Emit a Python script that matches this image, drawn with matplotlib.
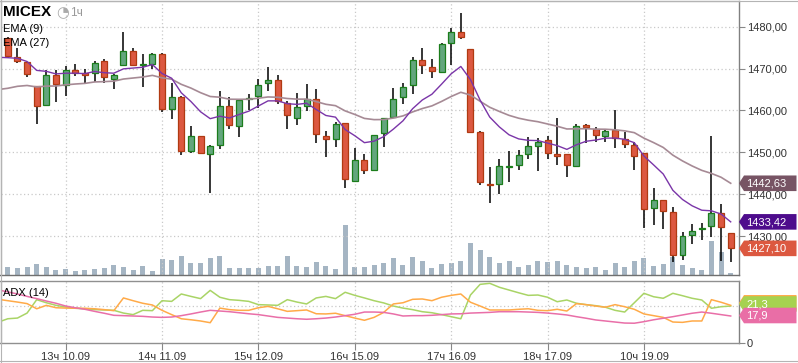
import numpy as np
import matplotlib
matplotlib.use("Agg")
import matplotlib.pyplot as plt
from matplotlib.patches import Polygon
from matplotlib.lines import Line2D
from matplotlib.transforms import IdentityTransform

plt.rcParams['font.family'] = ['Liberation Sans', 'DejaVu Sans']

# ---------------- data (hourly candles, MICEX) ----------------
opens = [1477.3, 1472.7, 1471.5, 1465.8, 1461.4, 1468.5, 1466.0, 1469.6, 1468.9, 1468.9,
         1471.7, 1467.6, 1470.8, 1474.1, 1470.8, 1471.0, 1473.5, 1460.3, 1463.3, 1450.3,
         1453.8, 1449.5, 1451.7, 1461.0, 1456.2, 1462.8, 1463.4, 1466.5, 1467.2, 1461.7,
         1458.2, 1461.1, 1462.8, 1453.8, 1453.1, 1456.9, 1443.2, 1448.1, 1445.8, 1454.6,
         1458.4, 1463.2, 1466.0, 1472.0, 1470.3, 1469.3, 1476.0, 1478.7, 1474.6, 1454.8,
         1442.5, 1442.4, 1446.4, 1446.9, 1449.5, 1451.5, 1452.9, 1449.6, 1449.5, 1446.8,
         1456.5, 1455.5, 1454.0, 1455.3, 1453.2, 1451.7, 1449.8, 1436.7, 1438.6, 1435.7,
         1425.4, 1430.4, 1431.6, 1432.4, 1435.5, 1430.7]
highs = [1477.6, 1474.8, 1471.6, 1465.9, 1469.7, 1469.7, 1470.5, 1471.1, 1469.8, 1471.9,
         1472.2, 1468.6, 1478.7, 1474.8, 1473.5, 1473.7, 1473.7, 1466.6, 1463.5, 1456.3,
         1453.9, 1451.7, 1464.7, 1463.2, 1462.6, 1464.0, 1467.4, 1470.3, 1468.4, 1462.3,
         1464.1, 1466.3, 1465.1, 1455.0, 1457.3, 1457.0, 1451.1, 1449.6, 1454.2, 1458.2,
         1465.4, 1466.6, 1472.8, 1474.8, 1472.2, 1476.2, 1479.6, 1483.3, 1474.7, 1455.0,
         1446.4, 1448.4, 1450.3, 1450.6, 1453.7, 1453.4, 1453.9, 1458.2, 1449.6, 1456.8,
         1456.8, 1456.1, 1455.6, 1460.1, 1454.9, 1452.6, 1449.9, 1441.4, 1438.7, 1437.0,
         1431.0, 1432.8, 1433.1, 1453.9, 1437.6, 1430.8]
lows = [1472.5, 1471.4, 1467.9, 1456.7, 1461.1, 1462.1, 1463.5, 1468.2, 1466.5, 1466.9,
        1466.5, 1465.2, 1470.5, 1470.5, 1465.7, 1470.0, 1459.6, 1458.0, 1449.3, 1449.9,
        1449.8, 1440.4, 1450.9, 1455.5, 1453.6, 1460.0, 1460.5, 1464.7, 1461.5, 1455.5,
        1456.5, 1459.9, 1452.2, 1448.8, 1451.4, 1441.4, 1443.0, 1444.9, 1445.6, 1451.4,
        1458.1, 1461.6, 1464.0, 1468.8, 1467.8, 1469.0, 1470.9, 1477.1, 1454.7, 1442.1,
        1437.9, 1440.1, 1442.9, 1445.7, 1448.5, 1445.5, 1448.5, 1447.1, 1444.1, 1446.7,
        1452.3, 1452.4, 1452.6, 1451.1, 1451.1, 1445.7, 1432.0, 1432.7, 1431.8, 1423.9,
        1424.3, 1428.2, 1429.2, 1429.9, 1424.1, 1423.9]
closes = [1473.1, 1471.9, 1468.6, 1461.1, 1468.4, 1466.3, 1469.6, 1468.9, 1468.4, 1471.3,
          1467.9, 1468.4, 1474.1, 1470.9, 1471.1, 1473.5, 1460.3, 1463.2, 1450.3, 1453.8,
          1449.9, 1451.5, 1461.0, 1456.5, 1462.4, 1463.0, 1466.0, 1467.2, 1462.3, 1458.9,
          1460.8, 1462.8, 1454.3, 1453.1, 1456.8, 1443.6, 1448.1, 1445.7, 1454.1, 1458.1,
          1462.7, 1465.5, 1472.0, 1470.8, 1469.4, 1475.9, 1478.7, 1477.5, 1454.9, 1442.9,
          1442.2, 1446.7, 1446.7, 1449.3, 1451.5, 1452.6, 1449.8, 1449.2, 1447.1, 1456.2,
          1456.0, 1454.1, 1455.2, 1453.5, 1451.9, 1449.1, 1436.4, 1438.6, 1436.1, 1425.4,
          1430.0, 1431.2, 1432.0, 1435.5, 1432.2, 1427.1]
volumes = [8, 7, 8, 11, 8, 5, 6, 4, 5, 6,
           7, 10, 8, 5, 9, 4, 16, 15, 19, 12,
           12, 17, 19, 7, 7, 7, 7, 9, 9, 19,
           9, 8, 13, 9, 6, 50, 8, 8, 10, 12,
           17, 10, 18, 14, 7, 11, 12, 14, 32, 25,
           18, 12, 14, 8, 10, 14, 13, 14, 10, 8,
           7, 8, 5, 12, 8, 14, 17, 9, 11, 18,
           10, 7, 5, 34, 23, 2]

# indicator series start one bar before the first visible candle
ema9 = [1472.7,
        1472.6, 1472.46, 1471.69, 1469.57, 1469.34, 1468.73, 1468.90, 1468.90, 1468.80, 1469.30,
        1469.02, 1468.90, 1469.94, 1470.13, 1470.32, 1470.96, 1468.83, 1467.70, 1464.22, 1462.14,
        1459.69, 1458.05, 1458.64, 1458.21, 1459.05, 1459.84, 1461.07, 1462.30, 1462.30, 1461.62,
        1461.46, 1461.73, 1460.24, 1458.81, 1458.41, 1455.45, 1453.98, 1452.32, 1452.68, 1453.76,
        1455.55, 1457.54, 1460.43, 1462.50, 1463.88, 1466.28, 1468.76, 1470.51, 1467.39, 1462.49,
        1458.43, 1456.08, 1454.20, 1453.22, 1452.88, 1452.82, 1452.22, 1451.62, 1450.72, 1451.82,
        1452.66, 1452.95, 1453.40, 1453.42, 1453.12, 1452.32, 1449.13, 1447.02, 1444.84, 1440.95,
        1438.76, 1437.25, 1436.20, 1436.06, 1435.29, 1433.42]
ema27 = [1465.0,
         1465.3, 1465.77, 1465.97, 1465.62, 1465.82, 1465.85, 1466.12, 1466.32, 1466.47, 1466.81,
         1466.89, 1467.00, 1467.51, 1467.75, 1467.99, 1468.38, 1467.80, 1467.47, 1466.24, 1465.35,
         1464.25, 1463.34, 1463.17, 1462.69, 1462.67, 1462.69, 1462.93, 1463.23, 1463.16, 1462.86,
         1462.71, 1462.72, 1462.12, 1461.48, 1461.15, 1459.90, 1459.06, 1458.11, 1457.82, 1457.84,
         1458.19, 1458.71, 1459.66, 1460.46, 1461.10, 1462.16, 1463.34, 1464.35, 1463.68, 1462.20,
         1460.77, 1459.77, 1458.84, 1458.16, 1457.68, 1457.32, 1456.78, 1456.24, 1455.59, 1455.63,
         1455.66, 1455.55, 1455.53, 1455.39, 1455.14, 1454.71, 1453.40, 1452.34, 1451.18, 1449.34,
         1447.96, 1446.76, 1445.71, 1444.98, 1444.07, 1442.63]
adx_green = [12.1,
             14.1, 14.5, 17.4, 25.2, 23.4, 21.9, 20.9, 20.2, 19.8, 19.4,
             19.2, 19.0, 17.4, 16.5, 19.0, 18.8, 24.6, 24.2, 28.5, 27.1,
             25.8, 30.6, 26.6, 25.2, 24.8, 24.2, 22.3, 22.1, 21.9, 25.2,
             23.8, 22.7, 26.2, 27.1, 25.8, 29.5, 27.7, 26.2, 24.6, 23.3,
             21.5, 20.3, 19.4, 18.2, 17.6, 16.5, 15.3, 14.1, 27.9, 34.1,
             34.7, 32.4, 30.8, 29.2, 27.7, 27.9, 26.6, 24.0, 25.0, 23.1,
             22.3, 21.7, 20.8, 19.0, 18.0, 23.4, 28.9, 26.9, 26.0, 28.9,
             27.5, 26.0, 25.0, 20.2, 21.1, 21.5]
adx_orange = [25.4,
              24.6, 23.8, 22.9, 19.9, 21.9, 20.5, 20.3, 20.2, 20.2, 19.9,
              19.4, 18.8, 26.2, 24.6, 23.1, 22.1, 19.0, 16.5, 14.1, 13.5,
              12.8, 11.8, 20.3, 19.4, 19.0, 19.0, 20.5, 21.3, 19.9, 18.4,
              18.8, 19.2, 17.0, 16.9, 17.3, 15.9, 14.5, 13.2, 14.9, 17.8,
              22.7, 23.4, 25.4, 25.6, 24.6, 26.6, 27.7, 28.5, 23.7, 21.5,
              19.2, 19.2, 19.2, 19.6, 19.9, 19.0, 18.8, 19.6, 18.6, 22.9,
              22.3, 21.5, 20.8, 22.3, 21.1, 19.6, 16.9, 15.9, 14.9, 12.2,
              12.0, 12.8, 12.8, 25.2, 23.7, 21.9]
adx_pink = [30.9,
            29.7, 28.5, 27.1, 25.8, 24.4, 23.1, 21.5, 20.5, 19.6, 18.4,
            17.3, 16.1, 15.9, 15.7, 15.5, 15.1, 14.9, 15.1, 15.9, 16.9,
            18.0, 19.0, 18.6, 18.2, 17.6, 17.0, 16.5, 15.7, 14.9, 14.5,
            14.1, 13.8, 14.1, 14.5, 15.1, 15.9, 16.7, 18.0, 18.0, 17.8,
            16.9, 15.7, 15.9, 15.9, 16.1, 16.5, 16.9, 17.0, 17.4, 17.6,
            17.8, 18.2, 18.2, 18.2, 18.0, 17.8, 17.4, 16.9, 16.3, 15.3,
            14.4, 13.4, 12.8, 12.2, 11.6, 11.5, 12.4, 13.5, 14.4, 15.3,
            16.3, 17.3, 18.0, 17.3, 16.5, 15.7]

time_tick_bars = [6, 16, 26, 36, 46, 56, 66]
time_tick_labels = ["13ч 10.09", "14ч 11.09", "15ч 12.09", "16ч 15.09",
                    "17ч 16.09", "18ч 17.09", "10ч 19.09"]
price_ticks = [1430, 1440, 1450, 1460, 1470, 1480]
ema9_label = "1433,42"
ema27_label = "1442,63"
last_label = "1427,10"
adx_green_label = "21,3"
adx_pink_label = "17,9"

# ---------------- figure ----------------
W, H = 798, 363
fig = plt.figure(figsize=(W / 100, H / 100), dpi=100)
fig.patch.set_facecolor('white')


def rect(l, t, r, b):
    return [l / W, (H - b) / H, (r - l) / W, (b - t) / H]


n = len(closes)
idx = np.arange(n)
ind_x = np.arange(-1, n)
XL = (-0.757, 75.83)
GRID = '#c9c9c9'
DOT = (0, (1, 2))

ax_vol = fig.add_axes(rect(0.5, 0.5, 738.7, 275))
ax = fig.add_axes(rect(0.5, 0.5, 738.7, 275))
ax_adx = fig.add_axes(rect(0.5, 281, 738.7, 343))
ax.set_facecolor('none')

# volume
ax_vol.bar(idx, volumes, width=0.52, color='#a5b5c3', zorder=2)
ax_vol.set_xlim(*XL)
ax_vol.set_ylim(0, 274.5)
ax_vol.axis('off')

# main price axes
ax.set_xlim(*XL)
ax.set_ylim(1420.74, 1486.25)
for p in price_ticks:
    ax.axhline(p, color=GRID, lw=0.9, ls=DOT, zorder=0)
for b in time_tick_bars:
    ax.axvline(b, color=GRID, lw=0.9, ls=DOT, zorder=0)

o = np.array(opens); c = np.array(closes)
up = c >= o
fills = np.where(up, '#63a67d', '#dc5840')
edges = np.where(up, '#1b7d1b', '#b03a12')
ax.vlines(idx, lows, highs, color='black', lw=1.1, zorder=3)
ax.bar(idx, np.maximum(np.abs(c - o), 0.3), bottom=np.minimum(o, c), width=0.62,
       color=fills, edgecolor=edges, linewidth=0.9, zorder=4)
ax.plot(ind_x, ema27, color='#a68a95', lw=1.2, zorder=5)
ax.plot(ind_x, ema9, color='#7a35a8', lw=1.0, zorder=6)

ax.yaxis.tick_right()
ax.set_yticks(price_ticks)
ax.set_yticklabels([f"{v:.2f}".replace('.', ',') for v in price_ticks])
ax.tick_params(axis='y', direction='out', length=4, width=0.8, color='#888888',
               labelsize=8, labelcolor='#333333', pad=2)
ax.set_xticks([])
for s, col in [('left', '#b0b0b0'), ('top', '#b8b8b8'), ('right', '#808080'), ('bottom', '#707070')]:
    ax.spines[s].set_color(col)
    ax.spines[s].set_linewidth(1.0)

# ADX panel
ax_adx.set_xlim(*XL)
ax_adx.set_ylim(0, 36.05)
ax_adx.axhline(21.3, color=GRID, lw=0.9, ls=DOT, zorder=0)
for b in time_tick_bars:
    ax_adx.axvline(b, color=GRID, lw=0.9, ls=DOT, zorder=0)
ax_adx.plot(ind_x, adx_green, color='#a9d466', lw=1.1, zorder=3)
ax_adx.plot(ind_x, adx_orange, color='#ffaa48', lw=1.1, zorder=4)
ax_adx.plot(ind_x, adx_pink, color='#e96fa8', lw=1.1, zorder=5)
ax_adx.yaxis.tick_right()
ax_adx.set_yticks([0])
ax_adx.set_yticklabels(['0'])
ax_adx.tick_params(axis='y', direction='out', length=4, width=0.8, color='#888888',
                   labelsize=8, labelcolor='#333333', pad=2)
ax_adx.set_xticks(time_tick_bars)
ax_adx.set_xticklabels(time_tick_labels)
ax_adx.tick_params(axis='x', direction='out', length=5, width=0.8, color='#888888',
                   labelsize=8, labelcolor='#333333', pad=1.5)
for s, col in [('left', '#b0b0b0'), ('top', '#909090'), ('right', '#808080'), ('bottom', '#909090')]:
    ax_adx.spines[s].set_color(col)
    ax_adx.spines[s].set_linewidth(1.0)

# ---------------- value tags on the right ----------------
ident = IdentityTransform()


def tag(axis, value, text, color, half=7.8, dy=0.0):
    yc = axis.transData.transform((0, value))[1] + dy
    x0, x1, x2 = 739.0, 744.0, 796.5
    poly = Polygon([(x0, yc), (x1, yc + half), (x2, yc + half), (x2, yc - half), (x1, yc - half)],
                   closed=True, facecolor=color, edgecolor='none', transform=ident)
    fig.add_artist(poly)
    if text:
        fig.text(x1 + 2.5, yc - 0.5, text, color='white', fontsize=8, va='center', ha='left',
                 transform=ident)


fig.canvas.draw()
tag(ax, ema27[-1], ema27_label, '#775464')
tag(ax, ema9[-1], ema9_label, '#4e0c8c')
tag(ax, closes[-1], last_label, '#dc5840')
tag(ax_adx, adx_orange[-1], '', '#ffaa48', dy=2.5)
tag(ax_adx, adx_green[-1], adx_green_label, '#a6d250', dy=2.0)
tag(ax_adx, adx_pink[-1], adx_pink_label, '#e96ea6', dy=0.5)

# ---------------- legend texts ----------------
def ftext(x, y, s, **kw):
    fig.text(x, H - y, s, transform=ident, **kw)


ftext(3, 16.5, "MICEX", fontsize=11, fontweight='bold', color='black', va='baseline')
ftext(56, 17, "◔", fontsize=10.5, color='#aaaaaa', va='baseline', family='DejaVu Sans')
ftext(70.5, 16.5, "1ч", fontsize=8.5, color='#999999', va='baseline')
ftext(3, 31.5, "EMA (9)", fontsize=8, color='black', va='baseline')
ftext(3, 46, "EMA (27)", fontsize=8, color='black', va='baseline')
ftext(3, 296, "ADX (14)", fontsize=8, color='black', va='baseline')

# outer frame
for (xa, ya, xb, yb) in [(0.5, 0, 0.5, H), (0, H - 0.5, W, H - 0.5), (0, H - 361, W, H - 361)]:
    fig.add_artist(Line2D([xa, xb], [ya, yb], color='#b4b4b4', lw=0.8, transform=ident))

fig.savefig('out.png', dpi=100, facecolor='white')
